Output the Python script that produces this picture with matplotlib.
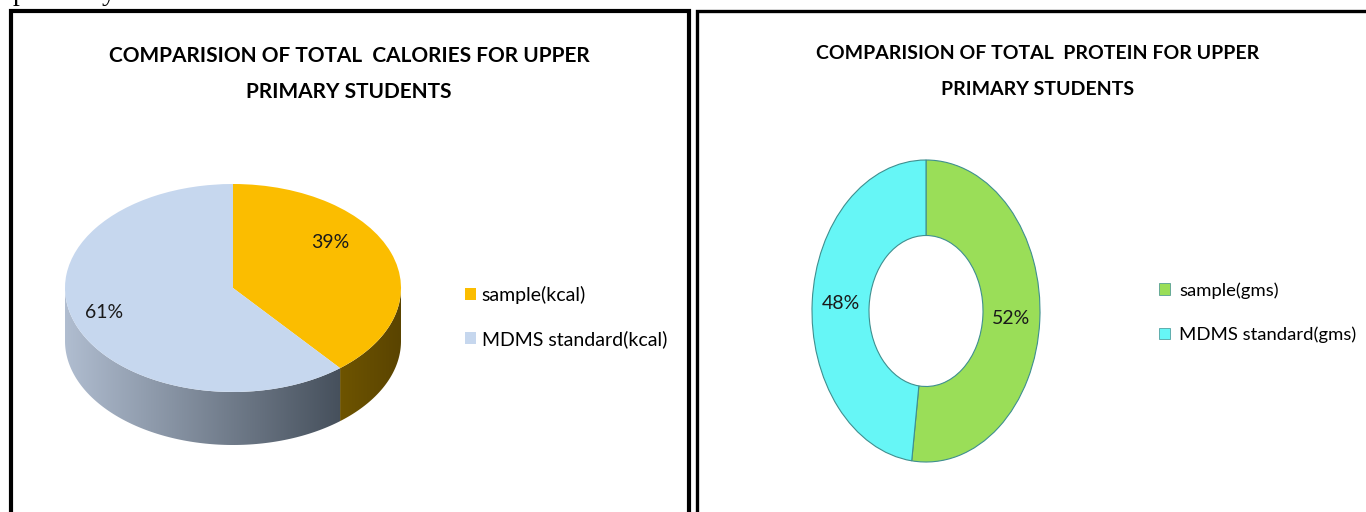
import numpy as np
import matplotlib
matplotlib.use('Agg')
import matplotlib.pyplot as plt
from matplotlib.patches import Polygon, Rectangle
from matplotlib.lines import Line2D
from matplotlib.colors import LinearSegmentedColormap

# dados
cal_labels = ['sample(kcal)', 'MDMS standard(kcal)']
cal_pct = [39, 61]
prot_labels = ['sample(gms)', 'MDMS standard(gms)']
prot_pct = [52, 48]

cal_colors = ['#fbbd00', '#c6d7ee']
cal_side = [('#6e5400', '#5a4400'), ('#b0bdd0', '#46505c')]
prot_colors = ['#9ade58', '#66f6f6']

title_cal = 'COMPARISION OF TOTAL  CALORIES FOR UPPER\nPRIMARY STUDENTS'
title_prot = 'COMPARISION OF TOTAL  PROTEIN FOR UPPER\nPRIMARY STUDENTS'

W, H = 1366, 512
fig = plt.figure(figsize=(W / 100, H / 100), dpi=100)
fig.patch.set_facecolor('white')

BODY_FONT = ['Lato', 'DejaVu Sans']


def px_axes(x0, y0, x1, y1):
    # caixa dada em pixels, origem no canto superior
    return fig.add_axes([x0 / W, 1 - y1 / H, (x1 - x0) / W, (y1 - y0) / H])


def fy(y):
    return 1 - y / H


# molduras dos dois quadros
for xs, ys, lw in [([11, 11, 689, 689], [520, 11, 11, 520], 3.0),
                   ([697.5, 697.5, 1370], [520, 10.5, 10.5], 2.4)]:
    fig.add_artist(Line2D([x / W for x in xs], [fy(y) for y in ys],
                          color='black', lw=lw, solid_joinstyle='miter'))

# pedaco de texto cortado no topo da pagina
fig.text(13 / W, fy(0.5), 'primarily', family='Liberation Serif', fontsize=20,
         va='baseline', ha='left', color='black')

# ---------- pizza 3D (calorias) ----------
cx, cy, rx, ry, dep = 233, 288, 168, 104, 53
d = dep / ry
m = 1.05
ax1 = px_axes(cx - rx * m, cy - ry * m, cx + rx * m, cy + ry * (m + d))

edges = 90 - np.concatenate([[0], np.cumsum(cal_pct)]) * 360 / sum(cal_pct)
for i in range(len(cal_pct)):
    hi, lo = edges[i], edges[i + 1]
    for f0, f1 in [(-180, 0), (-540, -360), (180, 360)]:
        a, b = max(lo, f0), min(hi, f1)
        if b <= a:
            continue
        t = np.radians(np.linspace(a, b, 120))
        xt, yt = np.cos(t), np.sin(t)
        pts = np.column_stack([np.concatenate([xt, xt[::-1]]),
                               np.concatenate([yt, yt[::-1] - d])])
        poly = Polygon(pts, closed=True, facecolor='none', edgecolor='none')
        ax1.add_patch(poly)
        cmap = LinearSegmentedColormap.from_list('s%d' % i, cal_side[i])
        im = ax1.imshow(np.linspace(0, 1, 256).reshape(1, -1), cmap=cmap,
                        extent=(xt.min(), xt.max(), -1 - d, 0), aspect='auto',
                        zorder=0.5)
        im.set_clip_path(poly)

ax1.pie(cal_pct, colors=cal_colors, startangle=90, counterclock=False,
        wedgeprops=dict(linewidth=0))
ax1.set_aspect('auto')
ax1.set_xlim(-m, m)
ax1.set_ylim(-m - d, m)
ax1.axis('off')

cal_text_pos = [(0.58, 0.44), (-0.77, -0.24)]
for v, (tx, ty) in zip(cal_pct, cal_text_pos):
    ax1.text(tx, ty, '%d%%' % v, ha='center', va='center', fontsize=14,
             family=BODY_FONT, color='#1a1a1a')

fig.text(349 / W, fy(74), title_cal, ha='center', va='center', fontsize=15,
         fontweight='bold', family=BODY_FONT, linespacing=1.95)

h1 = [Rectangle((0, 0), 1, 1, facecolor=c, edgecolor='none') for c in cal_colors]
fig.legend(h1, cal_labels, loc='center left', bbox_to_anchor=(465 / W, fy(317)),
           frameon=False, handlelength=0.55, handleheight=0.55,
           handletextpad=0.3, labelspacing=1.35, borderpad=0, borderaxespad=0,
           prop=dict(family=BODY_FONT, size=14))

# ---------- rosca (proteina) ----------
m2 = 1.02
ax2 = px_axes(926 - 114 * m2, 311 - 151 * m2, 926 + 114 * m2, 311 + 151 * m2)
wedges, _, autotexts = ax2.pie(prot_pct, colors=prot_colors, startangle=90,
                               counterclock=False, autopct='%d%%', pctdistance=0.75,
                               wedgeprops=dict(width=0.5, edgecolor='#3f8f8f',
                                               linewidth=0.8),
                               textprops=dict(fontsize=14, family=BODY_FONT,
                                              color='#1a1a1a'))
ax2.set_aspect('auto')
ax2.set_xlim(-m2, m2)
ax2.set_ylim(-m2, m2)
ax2.axis('off')

fig.text(1038 / W, fy(71.5), title_prot, ha='center', va='center', fontsize=14.0,
         fontweight='bold', family=BODY_FONT, linespacing=2.4)

h2 = [Rectangle((0, 0), 1, 1, facecolor=c, edgecolor='#3f8f8f', lw=0.5)
      for c in prot_colors]
fig.legend(h2, prot_labels, loc='center left', bbox_to_anchor=(1159 / W, fy(312.5)),
           frameon=False, handlelength=0.6, handleheight=0.6,
           handletextpad=0.5, labelspacing=1.5, borderpad=0, borderaxespad=0,
           prop=dict(family=BODY_FONT, size=13.3))

fig.savefig('out.png', dpi=100)
